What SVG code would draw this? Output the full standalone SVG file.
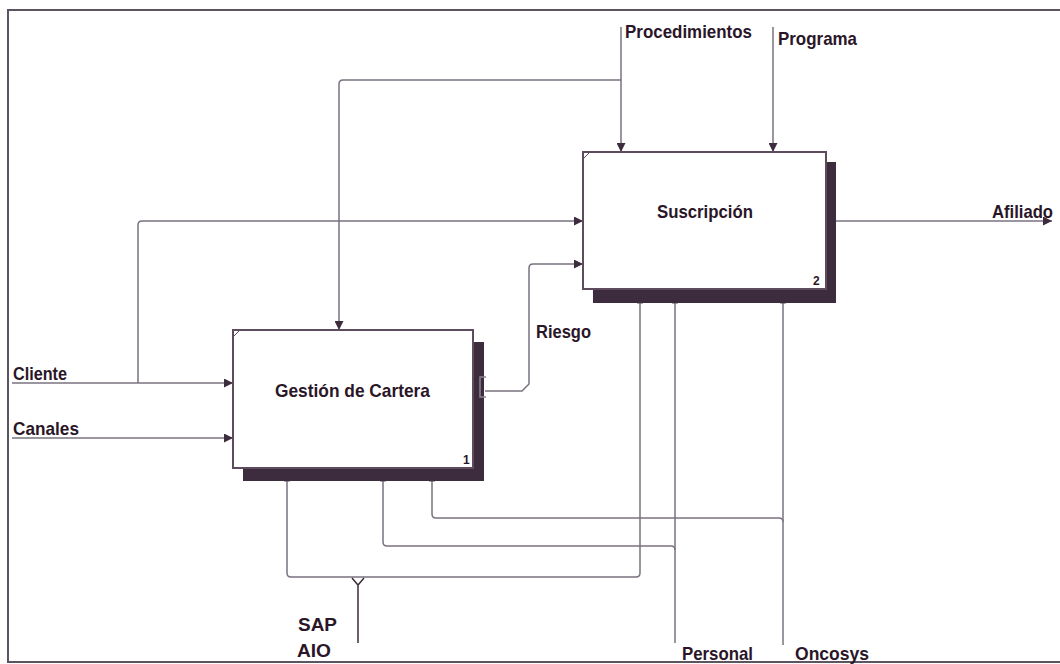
<svg xmlns="http://www.w3.org/2000/svg" width="1060" height="664" viewBox="0 0 1060 664">
  <style>
    .frame { stroke: #5a5560; stroke-width: 2; fill: none; }
    .box { fill: #ffffff; stroke: #5e4c5e; stroke-width: 2; }
    .shadow { fill: #3d2c3d; }
    .wire { fill: none; stroke: #7a7280; stroke-width: 1.5; }
    .lbl { font-family: "Liberation Sans", Arial, sans-serif; font-weight: bold; font-size: 19px; fill: #2a1628; }
    .num { font-family: "Liberation Sans", Arial, sans-serif; font-weight: bold; font-size: 12px; fill: #2a1628; }
    .tick { stroke: #5e4c5e; stroke-width: 1; }
  </style>
  <defs>
    <marker id="arrow" viewBox="0 0 10 10" refX="10" refY="5" markerWidth="9" markerHeight="9" markerUnits="userSpaceOnUse" orient="auto">
      <path d="M0,0 L10,5 L0,10 z" fill="#3d2c3d"/>
    </marker>
  </defs>
  <rect width="1060" height="664" fill="#ffffff"/>

  <!-- outer frame -->
  <path class="frame" d="M8,663 L8,10 L1060,10"/>
  <path class="frame" d="M8,662 L1060,662"/>

  <!-- connectors -->
  <g id="connectors">
    <!-- Procedimientos control -->
    <path class="wire" d="M621,27 L621,152" marker-end="url(#arrow)"/>
    <path class="wire" d="M621,80 L343,80 Q339,80 339,84 L339,330" marker-end="url(#arrow)"/>
    <!-- Programa control -->
    <path class="wire" d="M773,27 L773,152" marker-end="url(#arrow)"/>
    <!-- Cliente input -->
    <path class="wire" d="M12,383 L233,383" marker-end="url(#arrow)"/>
    <path class="wire" d="M138,383 L138,225 Q138,221 142,221 L583,221" marker-end="url(#arrow)"/>
    <!-- Canales input -->
    <path class="wire" d="M12,438 L233,438" marker-end="url(#arrow)"/>
    <!-- Riesgo -->
    <path class="wire" d="M485,391 L522,391 L529,384 L529,268 Q529,264 533,264 L583,264" marker-end="url(#arrow)"/>
    <!-- Afiliado output -->
    <path class="wire" d="M836,221 L1052,221" marker-end="url(#arrow)"/>
    <!-- SAP AIO mechanism -->
    <path class="wire" d="M287,481 L287,573 Q287,577 291,577 L636,577 Q640,577 640,573 L640,302"/>
    <path d="M358,643 L358,585 M352,578 L358,585 L364,578" fill="none" stroke="#3d2c3d" stroke-width="1.5"/>
    <!-- Personal mechanism -->
    <path class="wire" d="M383,481 L383,542 Q383,546 387,546 L671,546 Q675,546 675,550"/>
    <path class="wire" d="M675,302 L675,643"/>
    <!-- Oncosys mechanism -->
    <path class="wire" d="M432,481 L432,514 Q432,518 436,518 L779,518 Q783,518 783,522"/>
    <path class="wire" d="M783,302 L783,645"/>
    <!-- mechanism stubs under shadows -->
    <path class="tick" d="M284,481 L290,481 M380,481 L386,481 M429,481 L435,481 M637,303 L643,303 M672,303 L678,303 M780,303 L786,303"/>
  </g>

  <!-- Gestión de Cartera -->
  <g id="node-gestion">
    <rect class="shadow" x="243" y="342" width="241" height="139"/>
    <rect class="box" x="233" y="330" width="240" height="138"/>
    <path class="tick" d="M234,336 L239,331"/>
    <text class="lbl" x="275" y="397" textLength="155" lengthAdjust="spacingAndGlyphs">Gestión de Cartera</text>
    <text class="num" x="463" y="464">1</text>
    <!-- Riesgo output bracket on the shadow edge -->
    <path d="M486,377 L480,377 L480,397 L486,397" fill="none" stroke="#8a8290" stroke-width="1.5"/>
  </g>

  <!-- Suscripción -->
  <g id="node-suscripcion">
    <rect class="shadow" x="593" y="162" width="243" height="141"/>
    <rect class="box" x="583" y="152" width="243" height="137"/>
    <path class="tick" d="M584,158 L589,153"/>
    <text class="lbl" x="657" y="218" textLength="96" lengthAdjust="spacingAndGlyphs">Suscripción</text>
    <text class="num" x="813" y="285">2</text>
  </g>

  <!-- labels -->
  <g id="labels">
    <text class="lbl" x="625" y="38" textLength="127" lengthAdjust="spacingAndGlyphs">Procedimientos</text>
    <text class="lbl" x="778" y="45" textLength="79" lengthAdjust="spacingAndGlyphs">Programa</text>
    <text class="lbl" x="992" y="218" textLength="61" lengthAdjust="spacingAndGlyphs">Afiliado</text>
    <text class="lbl" x="536" y="338" textLength="55" lengthAdjust="spacingAndGlyphs">Riesgo</text>
    <text class="lbl" x="13" y="380" textLength="54" lengthAdjust="spacingAndGlyphs">Cliente</text>
    <text class="lbl" x="13" y="435" textLength="66" lengthAdjust="spacingAndGlyphs">Canales</text>
    <text class="lbl" x="298" y="631" font-size="17" textLength="39" lengthAdjust="spacingAndGlyphs">SAP</text>
    <text class="lbl" x="297" y="657" font-size="17" textLength="34" lengthAdjust="spacingAndGlyphs">AIO</text>
    <text class="lbl" x="682" y="660" textLength="71" lengthAdjust="spacingAndGlyphs">Personal</text>
    <text class="lbl" x="795" y="660" textLength="74" lengthAdjust="spacingAndGlyphs">Oncosys</text>
  </g>
</svg>
